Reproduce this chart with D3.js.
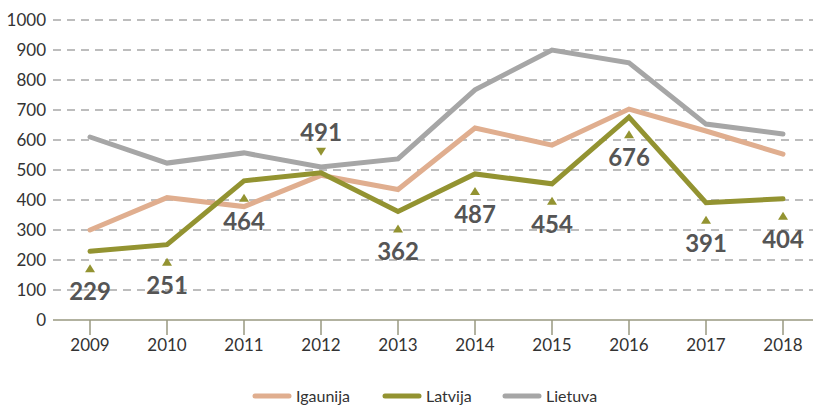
<!DOCTYPE html>
<html>
<head>
<meta charset="utf-8">
<script src="https://cdn.jsdelivr.net/npm/d3@7"></script>
<style>
body { margin: 0; background: #fff; }
svg { font-family: Lato, "Noto Sans", sans-serif; }
</style>
</head>
<body>
<svg id="chart" width="813" height="407"></svg>
<script>
var years = ["2009","2010","2011","2012","2013","2014","2015","2016","2017","2018"];
var igaunija = [300, 408, 378, 482, 435, 640, 583, 703, 630, 553];
var latvija = [229, 251, 464, 491, 362, 487, 454, 676, 391, 404];
var lietuva = [610, 523, 557, 510, 537, 767, 900, 857, 653, 620];
var yTicks = [0, 100, 200, 300, 400, 500, 600, 700, 800, 900, 1000];
var seriesNames = ["Igaunija", "Latvija", "Lietuva"];
var colors = ["#e0ae8f", "#939331", "#a6a6a6"];
// label above the point for these years
var labelAbove = ["2012"];

var svg = d3.select("#chart");
var x = d3.scalePoint().domain(years).range([90, 783]);
var y = d3.scaleLinear().domain([0, 1000]).range([320, 20]);

// grid
svg.append("g")
  .selectAll("line")
  .data(yTicks.filter(function(d) { return d > 0; }))
  .enter()
  .append("line")
    .attr("x1", 53).attr("x2", 813)
    .attr("y1", function(d) { return y(d); })
    .attr("y2", function(d) { return y(d); })
    .attr("stroke", "#a8a8a8")
    .attr("stroke-width", 1.3)
    .attr("stroke-dasharray", "8,6");

// y labels
svg.append("g")
  .selectAll("text")
  .data(yTicks)
  .enter()
  .append("text")
    .attr("x", 46)
    .attr("y", function(d) { return y(d); })
    .attr("dy", "0.36em")
    .attr("text-anchor", "end")
    .attr("font-size", 17)
    .attr("fill", "#333")
    .text(function(d) { return d; });

// x axis
var xAxis = svg.append("g").attr("transform", "translate(0,320)");
xAxis.append("line")
  .attr("x1", 53).attr("x2", 813)
  .attr("stroke", "#999980").attr("stroke-width", 1.5);
xAxis.selectAll(".tick")
  .data(years)
  .enter()
  .append("line")
    .attr("x1", function(d) { return x(d); })
    .attr("x2", function(d) { return x(d); })
    .attr("y1", 0).attr("y2", 15)
    .attr("stroke", "#999980").attr("stroke-width", 1.5);
xAxis.selectAll("text")
  .data(years)
  .enter()
  .append("text")
    .attr("x", function(d) { return x(d); })
    .attr("y", 31)
    .attr("text-anchor", "middle")
    .attr("font-size", 17)
    .attr("fill", "#333")
    .text(function(d) { return d; });

// lines
var line = d3.line()
  .x(function(d, i) { return x(years[i]); })
  .y(function(d) { return y(d); });

[igaunija, latvija, lietuva].forEach(function(s, k) {
    svg.append("path")
      .datum(s)
      .attr("d", line)
      .attr("fill", "none")
      .attr("stroke", colors[k])
      .attr("stroke-width", 5)
      .attr("stroke-linecap", "round")
      .attr("stroke-linejoin", "miter");
});

// Latvija labels with triangle markers
var labels = svg.append("g")
  .selectAll("g")
  .data(latvija)
  .enter()
  .append("g")
    .attr("transform", function(d, i) { return "translate(" + x(years[i]) + "," + y(d) + ")"; });

labels.append("path")
  .attr("d", function(d, i) {
      if (labelAbove.indexOf(years[i]) >= 0) {
          return "M-5,-25 L5,-25 L0,-17 Z";
      }
      return "M-5,21 L5,21 L0,13 Z";
  })
  .attr("fill", "#939331");

labels.append("text")
  .attr("text-anchor", "middle")
  .attr("y", function(d, i) { return labelAbove.indexOf(years[i]) >= 0 ? -32 : 49; })
  .attr("font-size", 24)
  .attr("font-weight", "bold")
  .attr("fill", "#555")
  .text(function(d) { return d; });

// legend
var legendX = [253, 383, 503];
var legend = svg.append("g")
  .selectAll("g")
  .data(seriesNames)
  .enter()
  .append("g")
    .attr("transform", function(d, i) { return "translate(" + legendX[i] + ",396)"; });
legend.append("line")
  .attr("x1", 2).attr("x2", 36)
  .attr("stroke", function(d, i) { return colors[i]; })
  .attr("stroke-width", 5)
  .attr("stroke-linecap", "round");
legend.append("text")
  .attr("x", 43)
  .attr("dy", "0.36em")
  .attr("font-size", 16)
  .attr("fill", "#333")
  .text(function(d) { return d; });
</script>
</body>
</html>
